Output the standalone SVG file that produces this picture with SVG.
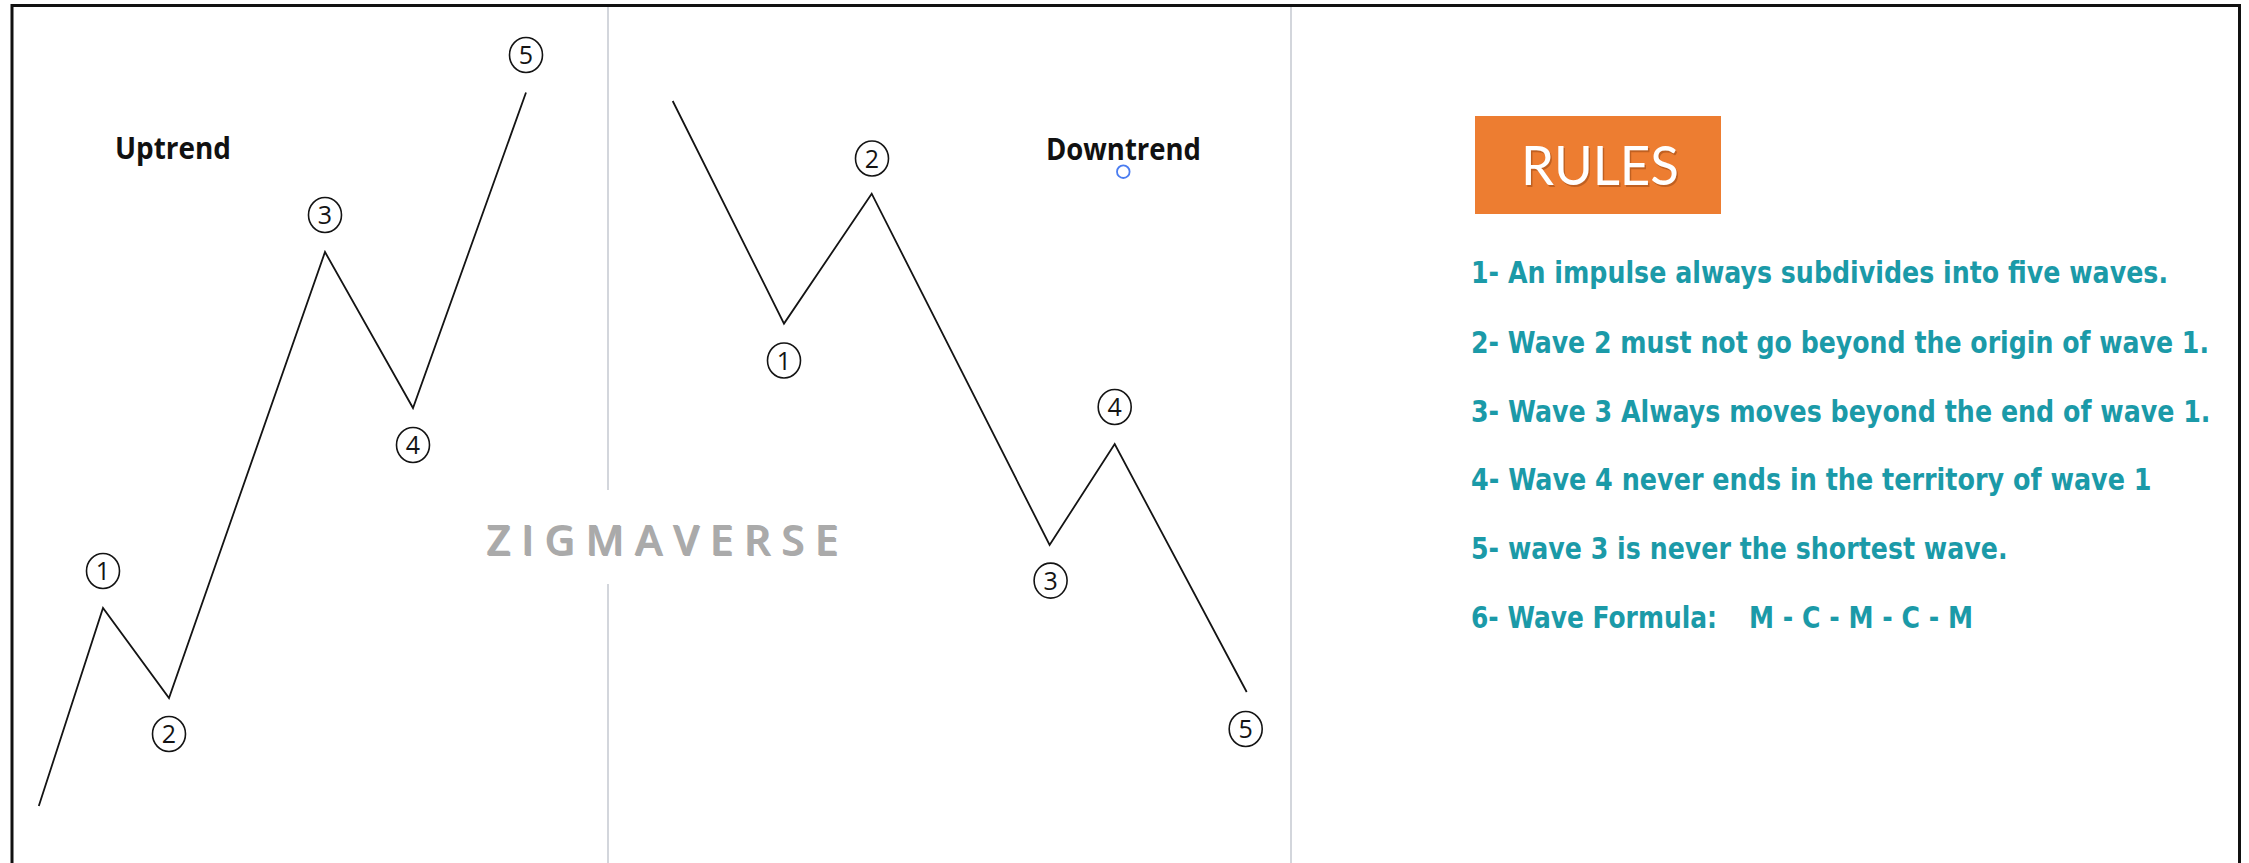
<svg xmlns="http://www.w3.org/2000/svg" width="2249" height="863" viewBox="0 0 2249 863">
  <style>
    .wave { fill: none; stroke: #141414; stroke-width: 1.8; stroke-linejoin: miter; }
    .divider { stroke: #d3d6dc; stroke-width: 2; }
    .badge ellipse { fill: #fff; stroke: #141414; stroke-width: 1.6; }
    .badge text { font-family: "Open Sans", "DejaVu Sans", sans-serif; font-size: 25px; fill: #141414; text-anchor: middle; }
    .trend { font-family: "Open Sans", "Liberation Sans", sans-serif; font-weight: 700; font-size: 30px; fill: #111; }
    .rule { font-family: "DejaVu Sans", "Liberation Sans", sans-serif; font-stretch: condensed; font-weight: 700; font-size: 30px; fill: #1b9aa8; }
    .brand { font-family: "Open Sans", "Liberation Sans", sans-serif; font-weight: 600; font-size: 42px; fill: #aaaaaa; }
  </style>

  <rect x="0" y="0" width="2249" height="863" fill="#ffffff"/>

  <!-- frame: top, left and right edges -->
  <path d="M12,870 V5.5 H2239.5 V870" fill="none" stroke="#111" stroke-width="3"/>

  <!-- panel dividers -->
  <g id="dividers">
    <line class="divider" x1="608" y1="7" x2="608" y2="863"/>
    <line class="divider" x1="1291" y1="7" x2="1291" y2="863"/>
  </g>

  <!-- watermark sits on a white patch that breaks the first divider -->
  <g id="watermark">
    <rect x="470" y="490" width="385" height="94" fill="#ffffff"/>
    <text class="brand" x="486" y="555" textLength="352" lengthAdjust="spacing" fill="#d8d8d8" transform="translate(1.2,1.2)">ZIGMAVERSE</text>
    <text class="brand" x="486" y="555" textLength="352" lengthAdjust="spacing">ZIGMAVERSE</text>
  </g>

  <!-- wave paths -->
  <g id="connectors">
    <polyline id="uptrend-wave" class="wave" points="38.8,806 103,608 169,698 325,252 413,408 526,92.5"/>
    <polyline id="downtrend-wave" class="wave" points="672.7,101 784,323.6 871.7,193.7 1049.6,545 1114.7,444 1246.7,692"/>
  </g>

  <!-- titles -->
  <g id="uptrend-title">
    <text class="trend" x="115" y="159" textLength="116" lengthAdjust="spacingAndGlyphs">Uptrend</text>
  </g>
  <g id="downtrend-title">
    <text class="trend" x="1046" y="160" textLength="155" lengthAdjust="spacingAndGlyphs">Downtrend</text>
    <circle cx="1123.3" cy="171.7" r="6.3" fill="none" stroke="#4a7cf0" stroke-width="1.8"/>
  </g>

  <!-- uptrend wave labels -->
  <g id="up-1" class="badge"><ellipse cx="103" cy="571" rx="16.5" ry="17.5"/><text x="103" y="580">1</text></g>
  <g id="up-2" class="badge"><ellipse cx="169" cy="734" rx="16.5" ry="17.5"/><text x="169" y="743">2</text></g>
  <g id="up-3" class="badge"><ellipse cx="325" cy="215" rx="16.5" ry="17.5"/><text x="325" y="224">3</text></g>
  <g id="up-4" class="badge"><ellipse cx="413" cy="445" rx="16.5" ry="17.5"/><text x="413" y="454">4</text></g>
  <g id="up-5" class="badge"><ellipse cx="526" cy="55" rx="16.5" ry="17.5"/><text x="526" y="64">5</text></g>

  <!-- downtrend wave labels -->
  <g id="down-1" class="badge"><ellipse cx="784" cy="360.5" rx="16.5" ry="17.5"/><text x="784" y="369.5">1</text></g>
  <g id="down-2" class="badge"><ellipse cx="872" cy="158.5" rx="16.5" ry="17.5"/><text x="872" y="167.5">2</text></g>
  <g id="down-3" class="badge"><ellipse cx="1050.6" cy="580.6" rx="16.5" ry="17.5"/><text x="1050.6" y="589.6">3</text></g>
  <g id="down-4" class="badge"><ellipse cx="1114.7" cy="407" rx="16.5" ry="17.5"/><text x="1114.7" y="416">4</text></g>
  <g id="down-5" class="badge"><ellipse cx="1245.7" cy="729" rx="16.5" ry="17.5"/><text x="1245.7" y="738">5</text></g>

  <!-- rules heading -->
  <g id="rules-heading">
    <rect x="1475" y="116" width="246" height="98" fill="#ed7d31"/>
    <text x="1522.5" y="186.5" font-family="Lato, 'Open Sans', sans-serif" font-size="54" fill="#8a3f10" fill-opacity="0.45" textLength="158" lengthAdjust="spacingAndGlyphs">RULES</text>
    <text x="1521" y="185" font-family="Lato, 'Open Sans', sans-serif" font-size="54" fill="#ffffff" textLength="158" lengthAdjust="spacingAndGlyphs">RULES</text>
  </g>

  <!-- rules list -->
  <g id="rules-list">
    <text class="rule" x="1471" y="283" textLength="697" lengthAdjust="spacingAndGlyphs">1- An impulse always subdivides into five waves.</text>
    <text class="rule" x="1471" y="352.5" textLength="738" lengthAdjust="spacingAndGlyphs">2- Wave 2 must not go beyond the origin of wave 1.</text>
    <text class="rule" x="1471" y="421.5" textLength="739.5" lengthAdjust="spacingAndGlyphs">3- Wave 3 Always moves beyond the end of wave 1.</text>
    <text class="rule" x="1471" y="490" textLength="680.5" lengthAdjust="spacingAndGlyphs">4- Wave 4 never ends in the territory of wave 1</text>
    <text class="rule" x="1471" y="559" textLength="536.5" lengthAdjust="spacingAndGlyphs">5- wave 3 is never the shortest wave.</text>
    <text class="rule" x="1471" y="628" textLength="246" lengthAdjust="spacingAndGlyphs">6- Wave Formula:</text>
    <text class="rule" x="1749" y="628" textLength="224" lengthAdjust="spacingAndGlyphs">M - C - M - C - M</text>
  </g>
</svg>
